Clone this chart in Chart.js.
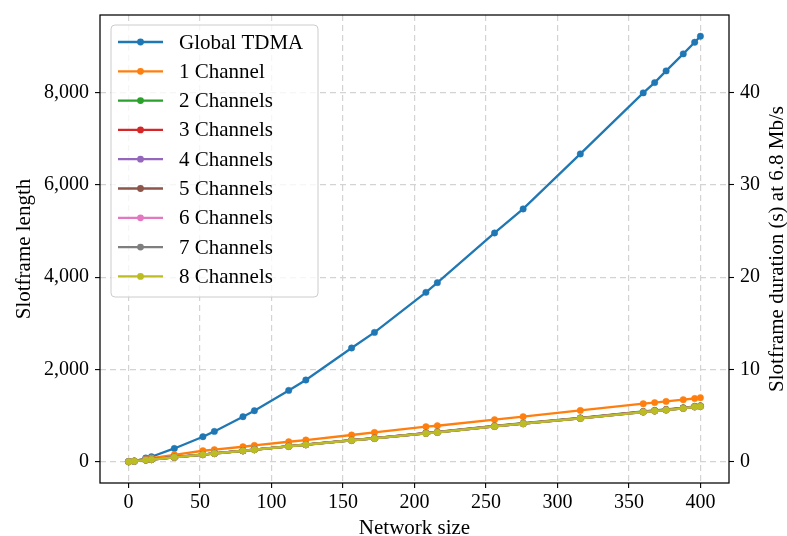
<!DOCTYPE html>
<html>
<head>
<meta charset="utf-8">
<script src="https://cdn.jsdelivr.net/npm/chart.js@4.4.0/dist/chart.umd.min.js"></script>
<style>
  html, body { margin: 0; padding: 0; background: #fff; }
</style>
</head>
<body>
<canvas id="chart" width="787" height="536"></canvas>
<script>
// network sizes on the x axis
const networkSizes = [0, 4, 12, 16, 32, 52, 60, 80, 88, 112, 124, 156, 172, 208, 216, 256, 276, 316, 360, 368, 376, 388, 396, 400];

// slotframe length per scheme
const globalTdma = [0, 10, 80, 108, 288, 542, 657, 976, 1106, 1546, 1771, 2465, 2803, 3671, 3881, 4958, 5479, 6671, 7994, 8217, 8470, 8839, 9091, 9221];
const channels1 = [0, 18, 60, 80, 150, 238, 262, 325, 353, 433, 470, 579, 635, 759, 780, 911, 976, 1112, 1257, 1282, 1307, 1344, 1370, 1388];
const channels2 = [0, 12, 37, 49, 98, 157, 181, 240, 264, 337, 373, 468, 513, 622, 645, 775, 834, 950, 1089, 1111, 1133, 1169, 1200, 1212];
const channels3 = [0, 12, 36, 49, 97, 156, 180, 238, 262, 335, 371, 466, 510, 619, 641, 771, 830, 945, 1084, 1106, 1128, 1164, 1195, 1207];
const channels4 = [0, 12, 36, 48, 97, 155, 179, 238, 262, 334, 370, 464, 509, 617, 639, 769, 827, 943, 1081, 1103, 1125, 1161, 1192, 1204];
const channels5 = [0, 12, 36, 48, 96, 155, 179, 237, 261, 333, 369, 463, 508, 616, 638, 768, 826, 941, 1079, 1101, 1123, 1159, 1190, 1202];
const channels6 = [0, 12, 36, 48, 96, 154, 178, 236, 261, 333, 369, 463, 507, 615, 637, 767, 825, 940, 1078, 1100, 1121, 1157, 1189, 1201];
const channels7 = [0, 12, 36, 48, 96, 154, 178, 236, 260, 332, 368, 462, 506, 614, 636, 766, 824, 939, 1077, 1099, 1120, 1156, 1188, 1200];
const channels8 = [0, 12, 36, 48, 96, 154, 178, 236, 260, 332, 368, 462, 506, 614, 636, 766, 824, 939, 1077, 1099, 1120, 1156, 1188, 1200];

const seriesNames = ['Global TDMA', '1 Channel', '2 Channels', '3 Channels', '4 Channels', '5 Channels', '6 Channels', '7 Channels', '8 Channels'];
const seriesValues = [globalTdma, channels1, channels2, channels3, channels4, channels5, channels6, channels7, channels8];
const seriesColors = ['#1f77b4', '#ff7f0e', '#2ca02c', '#d62728', '#9467bd', '#8c564b', '#e377c2', '#7f7f7f', '#bcbd22'];

// tick labels
const xTicks = [0, 50, 100, 150, 200, 250, 300, 350, 400];
const yTicks = [0, 2000, 4000, 6000, 8000];
const durationTicks = [0, 10, 20, 30, 40];

// slots per second at 6.8 Mb/s (right axis = left axis / this)
const slotsPerSecond = 200;
const yMin = -461, yMax = 9682;

const fontFamily = '"Liberation Serif", "Times New Roman", serif';
const tickFont = { family: fontFamily, size: 20 };
const titleFont = { family: fontFamily, size: 21, lineHeight: 1 };
const gridColor = '#d3d3d3';

const datasets = seriesNames.map((name, i) => ({
    label: name,
    data: networkSizes.map((n, j) => ({ x: n, y: seriesValues[i][j] })),
    borderColor: seriesColors[i],
    backgroundColor: seriesColors[i],
    pointBackgroundColor: seriesColors[i],
    pointBorderColor: seriesColors[i],
    borderWidth: 2.3,
    pointRadius: 3.2,
    pointBorderWidth: 0.5,
    tension: 0,
    order: seriesNames.length - 1 - i  // later series on top, like matplotlib
}));

// legend box in the upper left of the plot
const legendBox = {
    id: 'legendBox',
    afterDraw(chart) {
        const ctx = chart.ctx;
        const x0 = 111, y0 = 25, w = 207, h = 272, r = 4;
        ctx.save();
        ctx.beginPath();
        ctx.moveTo(x0 + r, y0);
        ctx.arcTo(x0 + w, y0, x0 + w, y0 + h, r);
        ctx.arcTo(x0 + w, y0 + h, x0, y0 + h, r);
        ctx.arcTo(x0, y0 + h, x0, y0, r);
        ctx.arcTo(x0, y0, x0 + w, y0, r);
        ctx.closePath();
        ctx.fillStyle = 'rgba(255,255,255,0.8)';
        ctx.fill();
        ctx.strokeStyle = '#cccccc';
        ctx.lineWidth = 1;
        ctx.stroke();

        ctx.font = '21px ' + fontFamily;
        ctx.textBaseline = 'middle';
        ctx.textAlign = 'left';
        seriesNames.forEach((name, i) => {
            const cy = y0 + 17 + i * 29.3;
            ctx.strokeStyle = seriesColors[i];
            ctx.lineWidth = 2.3;
            ctx.beginPath();
            ctx.moveTo(118, cy);
            ctx.lineTo(163, cy);
            ctx.stroke();
            ctx.fillStyle = seriesColors[i];
            ctx.beginPath();
            ctx.arc(140.5, cy, 3.4, 0, 2 * Math.PI);
            ctx.fill();
            ctx.fillStyle = '#000';
            ctx.fillText(name, 179, cy + 1);
        });
        ctx.restore();
    }
};

// full frame + right axis title (reads bottom to top like the left one)
const frameAndTitle = {
    id: 'frameAndTitle',
    afterDraw(chart) {
        const { ctx, chartArea } = chart;
        ctx.save();
        ctx.strokeStyle = '#000';
        ctx.lineWidth = 1.25;
        ctx.strokeRect(chartArea.left, chartArea.top, chartArea.right - chartArea.left, chartArea.bottom - chartArea.top);

        ctx.translate(777, (chartArea.top + chartArea.bottom) / 2);
        ctx.rotate(-Math.PI / 2);
        ctx.font = '21px ' + fontFamily;
        ctx.fillStyle = '#000';
        ctx.textAlign = 'center';
        ctx.textBaseline = 'middle';
        ctx.fillText('Slotframe duration (s) at 6.8 Mb/s', 0, 0);
        ctx.restore();
    }
};

// keep the plot box where the reference has it
function noEdgePadding(s) {
    s.paddingTop = 0;
    s.paddingBottom = 0;
    s.paddingLeft = 0;
    s.paddingRight = 0;
}

const tickGrid = { color: gridColor, lineWidth: 1.2, tickColor: '#000', tickLength: 5, tickWidth: 1.1, tickBorderDash: [] };

new Chart(document.getElementById('chart'), {
    type: 'line',
    data: { datasets: datasets },
    options: {
        responsive: false,
        animation: false,
        events: [],
        layout: { padding: { top: 15, left: 0, right: 0, bottom: 0 } },
        plugins: {
            legend: { display: false },
            tooltip: { enabled: false }
        },
        scales: {
            x: {
                type: 'linear',
                min: -20,
                max: 420,
                afterBuildTicks: (s) => { s.ticks = xTicks.map(v => ({ value: v })); },
                afterFit: (s) => { s.height = 53; noEdgePadding(s); },
                grid: tickGrid,
                border: { display: false, dash: [6, 4] },
                ticks: { font: tickFont, color: '#000', padding: 3, maxRotation: 0, autoSkip: false },
                title: { display: true, text: 'Network size', font: titleFont, color: '#000', padding: { top: 0, bottom: -3 } }
            },
            y: {
                type: 'linear',
                position: 'left',
                min: yMin,
                max: yMax,
                afterBuildTicks: (s) => { s.ticks = yTicks.map(v => ({ value: v })); },
                afterFit: (s) => { s.width = 100; noEdgePadding(s); },
                grid: tickGrid,
                border: { display: false, dash: [6, 4] },
                ticks: {
                    font: tickFont, color: '#000', padding: 6, autoSkip: false,
                    callback: (v) => v.toLocaleString('en-US')
                },
                title: { display: true, text: 'Slotframe length', font: titleFont, color: '#000', padding: { top: 14, bottom: 0 } }
            },
            y2: {
                type: 'linear',
                position: 'right',
                min: yMin / slotsPerSecond,
                max: yMax / slotsPerSecond,
                afterBuildTicks: (s) => { s.ticks = durationTicks.map(v => ({ value: v })); },
                afterFit: (s) => { s.width = 58; noEdgePadding(s); },
                grid: { drawOnChartArea: false, tickColor: '#000', tickLength: 5, tickWidth: 1.1 },
                border: { display: false },
                ticks: { font: tickFont, color: '#000', padding: 6, autoSkip: false }
            }
        }
    },
    plugins: [legendBox, frameAndTitle]
});
</script>
</body>
</html>
